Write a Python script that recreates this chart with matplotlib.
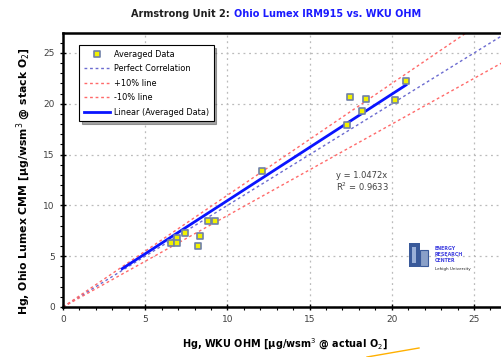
import matplotlib.pyplot as plt
from matplotlib.patches import Rectangle
from matplotlib.lines import Line2D
import numpy as np

# Averaged data (WKU OHM vs Ohio Lumex CMM)
wku_ohm = [6.55, 6.91, 6.95, 7.44, 8.23, 8.35, 8.80, 9.23, 12.1,
           17.29, 17.46, 18.19, 18.45, 20.18, 20.86]
lumex_cmm = [6.27, 6.76, 6.33, 7.25, 5.97, 6.99, 8.50, 8.50, 13.4,
             17.88, 20.7, 19.26, 20.5, 20.37, 22.27]

slope = 1.0472
r2 = 0.9633
ref_x = [0, 27]
fit_x = [3.6, 20.86]

fig = plt.figure(figsize=(5.02, 3.57), dpi=100)
ax = fig.add_axes([63 / 502, 1 - 307 / 357, 1 - 63 / 502, (307 - 33) / 357])

ax.plot(ref_x, [v for v in ref_x], color='#6b6bd0', lw=1, ls=(0, (2, 2)), label='Perfect Correlation')
ax.plot(ref_x, [1.1 * v for v in ref_x], color='#ff6a6a', lw=1, ls=(0, (2, 2)), label='+10% line')
ax.plot(ref_x, [0.9 * v for v in ref_x], color='#ff6a6a', lw=1, ls=(0, (2, 2)), label='-10% line')
ax.plot(fit_x, [slope * v for v in fit_x], color='#0a14ff', lw=2, label='Linear (Averaged Data)')
ax.scatter(wku_ohm, lumex_cmm, marker='s', s=22, facecolor='#f2f200', edgecolor='#7080a8',
           linewidths=1.2, zorder=5, label='Averaged Data')

ax.set_xlim(0, (502 - 63) / 16.44)
ax.set_ylim(0, (307 - 33) / 10.16)
ax.set_xticks([0, 5, 10, 15, 20, 25])
ax.set_yticks([0, 5, 10, 15, 20, 25])
ax.set_xticks(np.arange(0, 27, 1), minor=True)
ax.set_yticks(np.arange(0, 27, 1), minor=True)
ax.tick_params(which='major', direction='inout', length=5, width=1, labelsize=6.5, labelcolor='#404040')
ax.tick_params(which='minor', direction='out', length=2.5, width=0.8)
ax.grid(which='major', color='#bbbbbb', ls=(0, (1.5, 3)), lw=0.9)
for s in ['left', 'bottom', 'top']:
    ax.spines[s].set_linewidth(1.8)
ax.spines['right'].set_visible(False)

h, l = ax.get_legend_handles_labels()
order = [4, 0, 1, 2, 3]
leg = ax.legend([h[i] for i in order], [l[i] for i in order], loc='upper left',
                bbox_to_anchor=(12 / 439, 1 - 8 / 274), bbox_transform=ax.transAxes,
                fontsize=5.9, frameon=True, fancybox=False, shadow=True, handlelength=3.2,
                borderpad=0.55, labelspacing=0.68, handletextpad=0.5)
leg.get_frame().set_edgecolor('black')
leg.get_frame().set_linewidth(0.8)

ax.text(16.6, 12.95, 'y = 1.0472x', fontsize=6, color='#404040', va='center')
ax.text(16.6, 11.85, 'R$^2$ = 0.9633', fontsize=6, color='#404040', va='center')

ax.set_xlabel('Hg, WKU OHM [µg/wsm$^3$ @ actual O$_2$]', fontsize=7, fontweight='bold')
ax.xaxis.set_label_coords((285 - 63) / 439, -30 / 274)
ax.set_ylabel('Hg, Ohio Lumex CMM [µg/wsm$^3$ @ stack O$_2$]', fontsize=7.8, fontweight='bold')
ax.yaxis.set_label_coords(-30 / 439, (307 - 181) / 274)

fig.text(233 / 502, 1 - 14 / 357, 'Armstrong Unit 2: ', ha='right', va='center',
         fontsize=7, fontweight='bold', color='#202020')
fig.text(234 / 502, 1 - 14 / 357, 'Ohio Lumex IRM915 vs. WKU OHM', ha='left', va='center',
         fontsize=7, fontweight='bold', color='#1a1aff')

# ERC logo
fig.patches.append(Rectangle((409 / 502, 1 - 267 / 357), 11 / 502, 24 / 357, transform=fig.transFigure,
                             facecolor='#3a5a9a', edgecolor='none'))
fig.patches.append(Rectangle((412 / 502, 1 - 263 / 357), 4 / 502, 16 / 357, transform=fig.transFigure,
                             facecolor='#9ab0d8', edgecolor='none'))
fig.patches.append(Rectangle((420 / 502, 1 - 266 / 357), 8 / 502, 16 / 357, transform=fig.transFigure,
                             facecolor='#8aa0c8', edgecolor='#3a5a9a', lw=0.8))
fig.text(435 / 502, 1 - 254.5 / 357, 'ENERGY\nRESEARCH\nCENTER', fontsize=3.4, color='#4040e0',
         fontweight='bold', va='center', linespacing=1.15)
fig.text(435 / 502, 1 - 269 / 357, 'Lehigh University', fontsize=3, color='#202020', va='center')

fig.lines.append(Line2D([367 / 502, 419 / 502], [0.0, 9 / 357], transform=fig.transFigure,
                        color='#ffb000', lw=1))

fig.savefig('out.png', dpi=100)
